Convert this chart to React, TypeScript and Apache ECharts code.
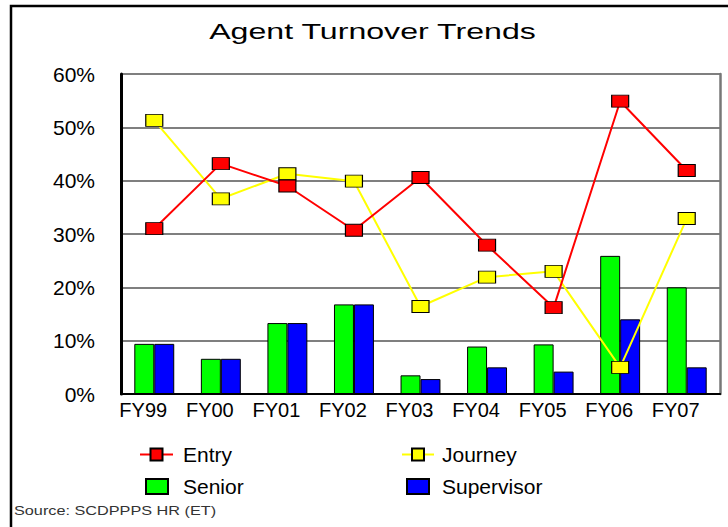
import React, { useEffect, useRef } from "react";
import * as echarts from "echarts";

const categories = ["FY99", "FY00", "FY01", "FY02", "FY03", "FY04", "FY05", "FY06", "FY07"];
const entry = [31.0, 43.2, 39.0, 30.7, 40.6, 27.9, 16.2, 54.9, 41.9];
const journey = [51.3, 36.6, 41.3, 39.9, 16.4, 21.9, 23.0, 5.0, 32.9];
const senior = [9.4, 6.6, 13.3, 16.8, 3.5, 8.9, 9.3, 25.9, 20.0];
const supervisor = [9.4, 6.6, 13.3, 16.8, 2.8, 5.0, 4.2, 14.0, 5.0];

const FONT = "Liberation Sans, Arial, sans-serif";

export default function App() {
  const ref = useRef<HTMLDivElement>(null);
  useEffect(() => {
    if (!ref.current) return;
    const chart = echarts.init(ref.current, undefined, { renderer: "svg" });
    const mkLegend = (
      name: string,
      left: number,
      top: number,
      itemWidth: number,
      padLeft: number,
      icon?: string
    ) => ({
      data: [name],
      left,
      top,
      orient: "horizontal",
      itemWidth,
      itemHeight: 15,
      itemGap: 0,
      padding: 0,
      ...(icon ? { icon } : {}),
      textStyle: {
        fontFamily: FONT,
        fontSize: 21,
        color: "#000",
        padding: [0, 0, 0, padLeft],
      },
      selectedMode: false,
    });
    chart.setOption({
      animation: false,
      backgroundColor: "#fff",
      textStyle: { fontFamily: FONT },
      graphic: [
        {
          type: "rect",
          shape: { x: 11, y: 6, width: 760, height: 560 },
          style: { fill: "none", stroke: "#000", lineWidth: 2.5 },
          silent: true,
        },
        {
          type: "text",
          x: 372.5,
          y: 31,
          scaleX: 1.46,
          style: {
            text: "Agent Turnover Trends",
            fontFamily: FONT,
            fontSize: 22,
            fill: "#000",
            align: "center",
            verticalAlign: "middle",
          },
        },
        {
          type: "text",
          x: 14,
          y: 511,
          scaleX: 1.25,
          style: {
            text: "Source: SCDPPPS HR (ET)",
            fontFamily: FONT,
            fontSize: 13,
            fill: "#333",
            align: "left",
            verticalAlign: "middle",
          },
        },
      ],
      legend: [
        mkLegend("Entry", 139, 444, 33, 5),
        mkLegend("Journey", 401, 444, 32, 3),
        mkLegend("Senior", 145, 476, 22, 10, "rect"),
        mkLegend("Supervisor", 406, 476, 22, 8, "rect"),
      ],
      grid: {
        left: 121,
        right: 8,
        top: 74,
        bottom: 133,
        show: false,
      },
      xAxis: [
        {
          type: "category",
          data: categories,
          axisLine: { lineStyle: { color: "#000", width: 2 } },
          axisTick: { show: false },
          axisLabel: {
            fontFamily: FONT,
            fontSize: 20,
            color: "#000",
            margin: 6,
            padding: [0, 22, 0, 0],
          },
        },
        {
          type: "category",
          position: "top",
          data: categories,
          axisLine: { show: true, lineStyle: { color: "#000", width: 1.5 } },
          axisTick: { show: false },
          axisLabel: { show: false },
        },
      ],
      yAxis: [
        {
          type: "value",
          min: 0,
          max: 60,
          interval: 10,
          axisLine: { show: true, lineStyle: { color: "#000", width: 3 } },
          axisTick: { show: false },
          axisLabel: {
            formatter: "{value}%",
            fontFamily: FONT,
            fontSize: 21,
            color: "#000",
            margin: 26,
          },
          splitLine: { lineStyle: { color: "#555", width: 1.5 } },
        },
        {
          type: "value",
          position: "right",
          min: 0,
          max: 60,
          interval: 10,
          axisLine: { show: true, lineStyle: { color: "#777", width: 2.5 } },
          axisTick: { show: false },
          axisLabel: { show: false },
          splitLine: { show: false },
        },
      ],
      series: [
        {
          name: "Senior",
          type: "bar",
          data: senior,
          barGap: "0%",
          barCategoryGap: "40%",
          itemStyle: { color: "#00ff00", borderColor: "#000", borderWidth: 1 },
        },
        {
          name: "Supervisor",
          type: "bar",
          data: supervisor,
          barGap: "0%",
          barCategoryGap: "40%",
          itemStyle: { color: "#0000ff", borderColor: "#000", borderWidth: 1 },
        },
        {
          name: "Journey",
          type: "line",
          data: journey,
          symbol: "rect",
          symbolSize: [17, 12],
          lineStyle: { color: "#ffff00", width: 2 },
          itemStyle: { color: "#ffff00", borderColor: "#000", borderWidth: 1 },
        },
        {
          name: "Entry",
          type: "line",
          data: entry,
          symbol: "rect",
          symbolSize: [17, 12],
          lineStyle: { color: "#ff0000", width: 2 },
          itemStyle: { color: "#ff0000", borderColor: "#000", borderWidth: 1 },
        },
      ],
    });
    return () => chart.dispose();
  }, []);
  return (
    <div
      ref={ref}
      style={{ position: "fixed", left: 0, top: 0, width: 728, height: 527 }}
    />
  );
}
